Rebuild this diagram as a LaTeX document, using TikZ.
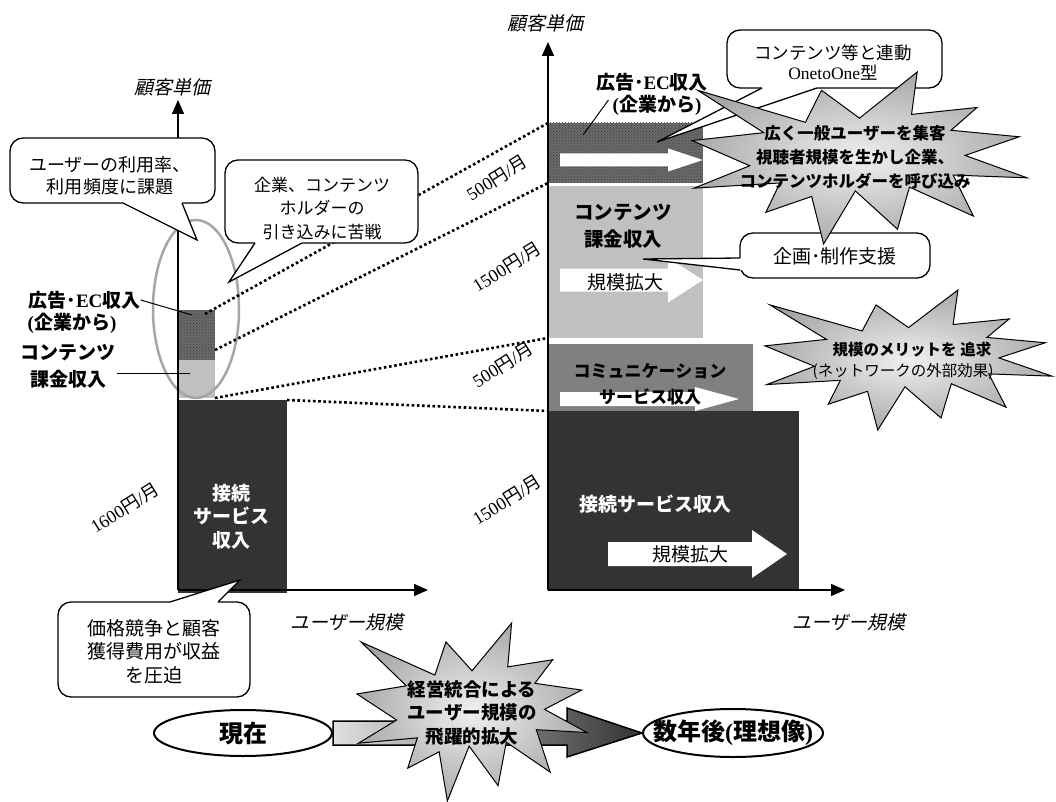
\documentclass[tikz,border=0pt]{standalone}
\usepackage{fontspec}
\setmainfont{Liberation Serif}
\newfontfamily\jp{Noto Sans CJK JP}
\newfontfamily\jpit{Noto Sans CJK JP}[FakeSlant=0.22]
\usetikzlibrary{arrows.meta,patterns,calc,shapes.geometric}
\newcommand\fsz[2]{\fontsize{#1pt}{#2pt}\selectfont}
\pgfdeclareradialshading{starshade}{\pgfpoint{0bp}{0bp}}{color(0bp)=(black!6); color(50bp)=(black!60)}
\definecolor{dk}{HTML}{333333}
\definecolor{md}{HTML}{808080}
\definecolor{lt}{HTML}{C0C0C0}
\definecolor{pt}{HTML}{6A6A6A}
\definecolor{elc}{HTML}{A6A6A6}
\newcommand\warrow[6]{\fill[white] (#1,#4-#5) -- (#2,#4-#5) -- (#2,#4-#6) -- (#3,#4) -- (#2,#4+#6) -- (#2,#4+#5) -- (#1,#4+#5) -- cycle;}
\newcommand\seal[4]{\begin{scope}[shift={(#1,#2)},x=#3pt,y=-#4pt]
 \path[draw=black,line width=1pt,shade,shading=starshade] (0.5,0.2685) -- (0.6723,0) -- (0.6553,0.2465) -- (0.8509,0.2063) -- (0.7732,0.3387) -- (0.9767,0.3767) -- (0.8151,0.4850) -- (1,0.6153) -- (0.7795,0.5992) -- (0.8400,0.8377) -- (0.6491,0.6693) -- (0.6133,0.9138) -- (0.4876,0.6914) -- (0.3928,1) -- (0.3572,0.7235) -- (0.2205,0.8156) -- (0.2624,0.6452) -- (0.00625,0.6753) -- (0.1723,0.5451) -- (0,0.3988) -- (0.2142,0.3527) -- (0.0171,0.1063) -- (0.3385,0.2926) -- (0.3867,0.1063) -- cycle;
\end{scope}}
\begin{document}
\begin{tikzpicture}[x=1pt,y=-1pt,
  bar/.style={rectangle,draw=none,inner sep=0pt,outer sep=0pt,anchor=north west},
  callbox/.style={rectangle,draw=black,fill=white,line width=1.3pt,rounded corners=13pt,inner sep=0pt},
  tailline/.style={draw=black,line width=1.3pt},
  dotline/.style={line width=2.6pt,dash pattern=on 2.6pt off 2.6pt},
  axis/.style={line width=1.5pt,-{Triangle[length=14pt,width=12pt]}},
  lbl/.style={align=center,font=\jp\bfseries\fsz{19}{23},inner sep=0pt},
  txt/.style={align=center,font=\jp\fsz{18}{22},inner sep=0pt},
  axlab/.style={font=\jpit\fsz{19}{22},inner sep=0pt},
  rlab/.style={rotate=32,font=\fsz{18}{20},inner sep=0pt},
  sttxt/.style={align=center,font=\jp\bfseries\fsz{16.5}{24},inner sep=0pt},
  ovl/.style={ellipse,draw=black,line width=2pt,fill=white,inner sep=0pt}]
\useasboundingbox (0,0) rectangle (1056,802);

% ---------- left bars
\node[bar,fill=pt,minimum width=37pt,minimum height=50pt] (lpat) at (178,310) {};
\fill[pattern=crosshatch dots,pattern color=black!75] (lpat.north west) rectangle (lpat.south east);
\node[bar,fill=lt,minimum width=37pt,minimum height=38pt] (llt) at (178,360) {};
\node[bar,fill=dk,minimum width=109pt,minimum height=193pt] (ldk) at (178,400) {};
\node[lbl,text=white,font=\jp\bfseries\fsz{19}{23.5}] (tlconn) at (231,516.5) {接続\\サービス\\収入};

% ---------- right bars
\node[bar,fill=pt,minimum width=155pt,minimum height=60pt] (rpat) at (548,123) {};
\fill[pattern=crosshatch dots,pattern color=black!75] (rpat.north west) rectangle (rpat.south east);
\node[bar,fill=lt,minimum width=155pt,minimum height=152pt] (rlt) at (548,186) {};
\node[bar,fill=md,minimum width=205pt,minimum height=67pt] (rcm) at (548,344) {};
\warrow{560}{668}{703}{160}{6.5}{11.5}
\warrow{560}{668}{703}{280}{11.5}{22.5}
\warrow{560}{695}{739}{399}{7}{12}
\node[bar,fill=dk,minimum width=251pt,minimum height=179pt] (rdk) at (548,411) {};
\warrow{608}{752}{787}{554}{12}{24}

\node[lbl,font=\jp\bfseries\fsz{19.5}{27}] (tcont) at (623,226.5) {コンテンツ\\課金収入};
\node[txt,font=\jp\fsz{19}{22}] (tsc1) at (625,282) {規模拡大};
\node[lbl,font=\jp\bfseries\fsz{17}{26}] (tcomm) at (650,384) {コミュニケーション\\サービス収入};
\node[lbl,text=white] (tconn) at (655,504) {接続サービス収入};
\node[txt,font=\jp\fsz{19}{22}] (tsc2) at (690,554) {規模拡大};

% ---------- gray ellipse
\node[ellipse,draw=elc,line width=2.5pt,minimum width=86pt,minimum height=178pt,inner sep=0pt] (lell) at (196,309) {};

% ---------- dotted connectors
\draw[dotline] ($(lpat.north east)+(-10,4)$) -- (rpat.north west);
\draw[dotline] ($(lpat.south east)+(0,-10)$) -- (rpat.south west);
\draw[dotline] (llt.south east) -- (rlt.south west);
\draw[dotline] (ldk.north east) -- (rcm.south west);

% ---------- axes
\coordinate (lo) at (178,590);
\coordinate (lytip) at (178,100);
\coordinate (lxtip) at (428,590);
\coordinate (ro) at (548,590);
\coordinate (rytip) at (548,42);
\coordinate (rxtip) at (845,590);
\draw[axis] (lo) -- (lytip);
\draw[axis] (lo) -- (lxtip);
\draw[axis] (ro) -- (rytip);
\draw[axis] (ro) -- (rxtip);
\node[axlab] (lylab) at (172,87) {顧客単価};
\node[axlab] (rylab) at (545,23) {顧客単価};
\node[axlab] (lxlab) at (347,622) {ユーザー規模};
\node[axlab] (rxlab) at (849,622) {ユーザー規模};

% ---------- rotated price labels
\node[rlab] (p1) at (497,178) {500{\jp 円}/{\jp 月}};
\node[rlab] (p2) at (507,267) {1500{\jp 円}/{\jp 月}};
\node[rlab] (p3) at (503,365) {500{\jp 円}/{\jp 月}};
\node[rlab] (p4) at (507,500) {1500{\jp 円}/{\jp 月}};
\node[rlab] (p5) at (125,508) {1600{\jp 円}/{\jp 月}};

% ---------- left labels
\node[lbl] (lad) at (84.5,300) {広告･{\rmfamily EC}収入};
\node[lbl] (lad2) at (72,323) {{\rmfamily (}企業から{\rmfamily )}};
\node[lbl,font=\jp\bfseries\fsz{19}{27}] (lcont) at (68,366.5) {コンテンツ\\課金収入};
\draw[line width=1pt] (lad.east) -- ($(lpat.north west)+(14,5)$);
\draw[line width=1pt] ($(lcont.east)+(1,6.5)$) -- ($(llt.west)+(12,-6)$);

% ---------- right labels
\node[lbl] (rad) at (652,82) {広告･{\rmfamily EC}収入};
\node[lbl] (rad2) at (657,105) {{\rmfamily (}企業から{\rmfamily )}};
\draw[line width=1pt] ($(rad2.west)+(-4,-5)$) -- ($(rpat.north west)+(35,12)$);

% ---------- callouts
% c1
\node[callbox,minimum width=205pt,minimum height=65pt] (c1) at (112.5,170.5) {};
\fill[white] (123,201) -- (123,203) -- (197,240) -- (182,203) -- (182,201) -- cycle;
\draw[tailline] (123,203) -- (197,240) -- (182,203);
\node[txt,font=\jp\fsz{18}{22}] (c1t) at (110,176) {ユーザーの利用率、\\利用頻度に課題};
% c2
\node[callbox,minimum width=193pt,minimum height=83pt] (c2) at (321.5,201.5) {};
\fill[white] (255,241) -- (255,243) -- (229,282) -- (302,243) -- (302,241) -- cycle;
\draw[tailline] (255,243) -- (229,282) -- (302,243);
\node[txt,font=\jp\fsz{17}{23.5}] (c2t) at (322,208.5) {企業、コンテンツ\\ホルダーの\\引き込みに苦戦};
% c3
\node[callbox,minimum width=192pt,minimum height=95pt] (c3) at (154,649.5) {};
\fill[white] (170,604) -- (170,602) -- (240,580) -- (218,602) -- (218,604) -- cycle;
\draw[tailline] (170,602) -- (240,580) -- (218,602);
\node[txt,font=\jp\fsz{19}{23.5}] (c3t) at (154,651.5) {価格競争と顧客\\獲得費用が収益\\を圧迫};
% c4
\node[callbox,minimum width=190pt,minimum height=45pt] (c4) at (835,255.5) {};
\fill[white] (742,258) -- (740,258) -- (643,259) -- (740,270) -- (742,270) -- cycle;
\draw[tailline] (740,258) -- (643,259) -- (740,270);
\node[txt,font=\jp\fsz{19}{22}] (c4t) at (835,256) {企画･制作支援};
% c5
\node[callbox,minimum width=215pt,minimum height=58pt] (c5) at (834.5,59) {};
\fill[white] (762,86) -- (762,88) -- (657,142) -- (817,88) -- (817,86) -- cycle;
\draw[tailline] (762,88) -- (657,142) -- (817,88);
\node[txt,font=\jp\fsz{17.5}{20}] (c5t) at (833,63) {コンテンツ等と連動\\{\rmfamily OnetoOne}型};

% ---------- stars
\seal{692}{72}{335}{172}
\node[sttxt] (s1t) at (855,157) {広く一般ユーザーを集客\\視聴者規模を生かし企業、\\コンテンツホルダーを呼び込み};
\seal{765}{290}{287}{140}
\node[sttxt,font=\jp\bfseries\fsz{15.5}{21}] (s2t) at (912,350) {規模のメリットを 追求};
\node[txt,font=\jp\fsz{15.5}{20}] (s2t2) at (903,371) {(ネットワークの外部効果)};

% ---------- bottom: transition
\node[ovl,minimum width=178pt,minimum height=46pt] (now) at (243,733) {};
\node[ovl,minimum width=180pt,minimum height=48pt] (fut) at (733,733) {};
\path[draw=black,line width=1.5pt,left color=black!12,right color=black!80]
  ($(now.east)+(0,-12)$) -- ($(fut.west)+(-75,-12)$) -- ($(fut.west)+(-75,-25)$) -- (fut.west)
  -- ($(fut.west)+(-75,24)$) -- ($(fut.west)+(-75,12)$) -- ($(now.east)+(0,12)$) -- cycle;
\seal{357}{623}{230}{178}
\node[sttxt,font=\jp\bfseries\fsz{18.5}{23.5}] (s3t) at (472,713) {経営統合による\\ユーザー規模の\\飛躍的拡大};
\node[lbl,font=\jp\bfseries\fsz{24}{28}] (nowt) at (now) {現在};
\node[lbl,font=\jp\bfseries\fsz{24}{28}] (futt) at (fut) {数年後{\rmfamily (}理想像{\rmfamily )}};
\end{tikzpicture}
\end{document}
